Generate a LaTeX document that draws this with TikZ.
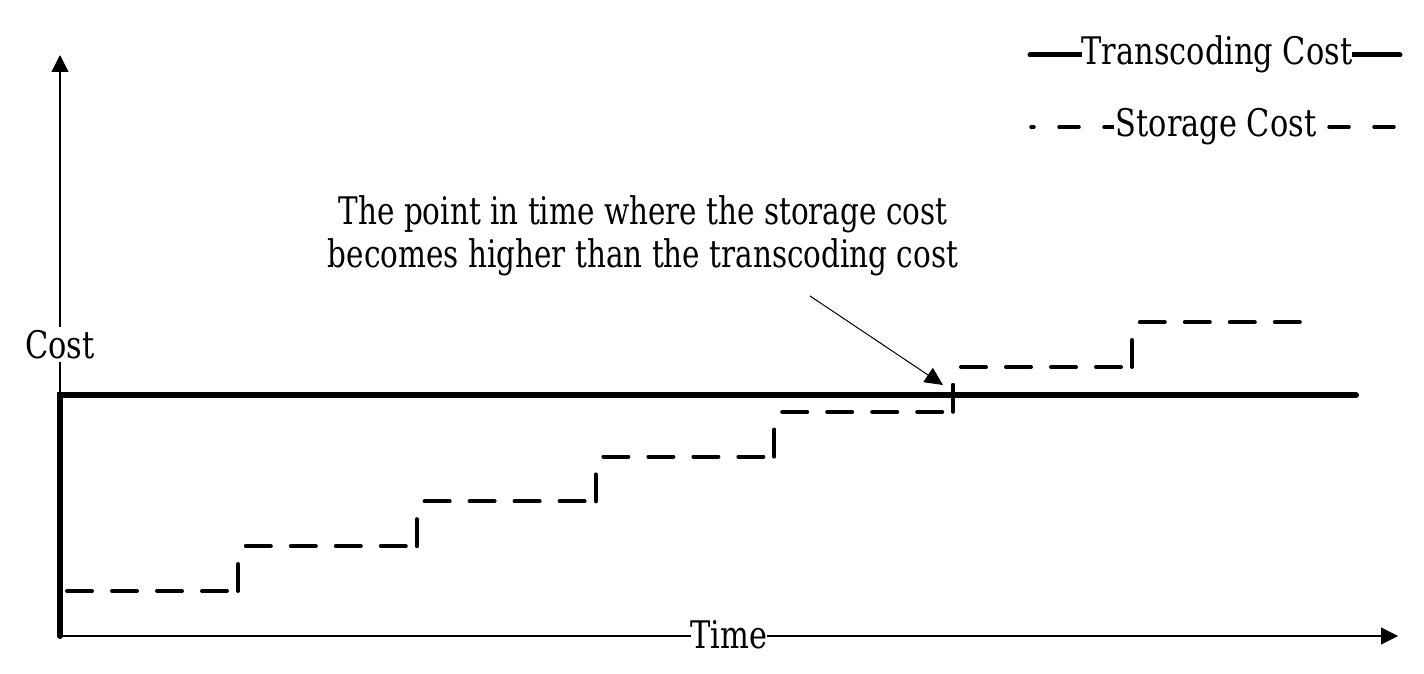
\documentclass[tikz,border=0pt]{standalone}
\usepackage{fontspec}
\setmainfont{DejaVu Serif}[FakeStretch=0.8]
\newfontfamily\notefont{DejaVu Serif}[FakeStretch=0.775]
\usepackage{tikz}
\usetikzlibrary{arrows.meta,positioning}
\tikzstyle{costaxis} = [draw, line width=1.3pt, -{Triangle[length=17pt,width=17pt]}]
\tikzstyle{transline} = [draw, line width=6pt, line cap=round]
\tikzstyle{storeline} = [draw, line width=4pt, line cap=round, dash pattern=on 25pt off 20pt]
\tikzstyle{storestep} = [draw, line width=4pt, line cap=round]
\tikzstyle{legdash} = [draw, line width=3.5pt, line cap=round, dash pattern=on 20pt off 25pt, dash phase=17pt]
\tikzstyle{costtext} = [font=\fontsize{38}{43}\selectfont, inner sep=1pt]
\tikzstyle{pointer} = [draw, line width=1pt, -{Triangle[length=18pt,width=17pt]}]

\begin{document}
\begin{tikzpicture}[x=1pt,y=-1pt]
        \useasboundingbox (0,0) rectangle (1424,674);
        % axes
        \coordinate (origin) at (60,636);
        \coordinate (ytop) at (60,55);
        \coordinate (xend) at (1398,636);
        \draw[costaxis] (origin) -- (ytop);
        \draw[costaxis] (origin) -- (xend);
        \node[costtext, fill=white, inner sep=3pt, anchor=base] (costlbl) at (60,358) {Cost};
        \node[costtext, fill=white, inner sep=0pt, anchor=base] (timelbl) at (729,648) {Time};
        % transcoding cost
        \coordinate (tc1) at (60,395);
        \coordinate (tc2) at (1356,395);
        \draw[transline] (origin) -- (tc1) -- (tc2);
        % storage cost
        \foreach \i in {0,1,...,6} { \draw[storeline] ({67+178.8*\i},{591-44.8*\i}) -- ++(163,0);}
        \foreach \i in {0,1,...,5} { \draw[storestep] ({238+178.8*\i},{591-44.8*\i}) -- ++(0,-27);}
        % note
        \node[costtext, font=\fontsize{38}{43}\notefont, align=center] (note) at (643,236)
          {The point in time where the storage cost\\becomes higher than the transcoding cost};
        \coordinate (notetail) at (810,296);
        \coordinate (crossing) at (943,385);
        \draw[pointer] (notetail) -- (crossing);
        % legend
        \coordinate (tcL) at (1030,55);
        \coordinate (tcR) at (1400,55);
        \draw[transline, line width=5pt] (tcL) -- (tcR);
        \node[costtext, fill=white, inner sep=0pt, anchor=base] (tclegend) at (1217,65) {Transcoding Cost};
        \coordinate (scL) at (1031,127);
        \coordinate (scR) at (1395,127);
        \draw[legdash] (scL) -- (scR);
        \node[costtext, fill=white, inner sep=2pt, anchor=base] (sclegend) at (1216,137) {Storage Cost};
      \end{tikzpicture}
\end{document}
